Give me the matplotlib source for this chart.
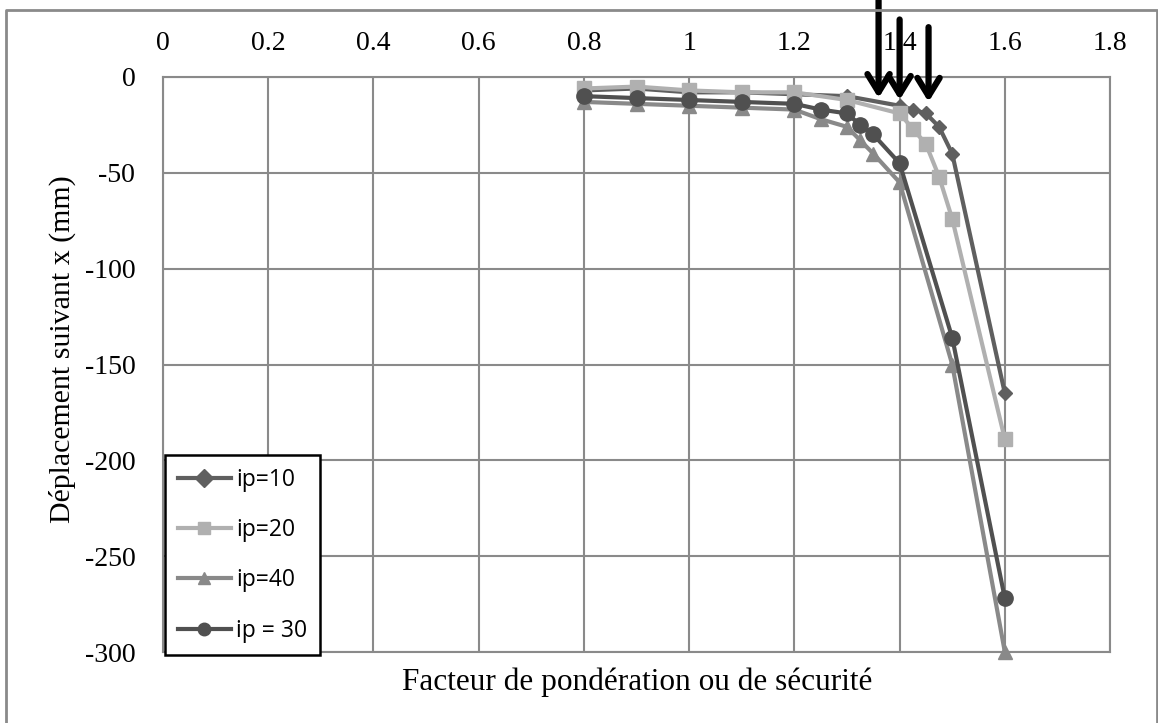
import numpy as np
import matplotlib.pyplot as plt
from matplotlib.lines import Line2D

plt.rcParams['axes.unicode_minus'] = False

# data
x10 = [0.8, 0.9, 1.0, 1.1, 1.2, 1.3, 1.4, 1.425, 1.45, 1.475, 1.5, 1.6]
y10 = [-7, -6, -8, -8, -9, -10, -15, -17, -19, -26, -40, -165]

x20 = [0.8, 0.9, 1.0, 1.1, 1.2, 1.3, 1.4, 1.425, 1.45, 1.475, 1.5, 1.6]
y20 = [-6, -5, -7, -8, -8, -12, -19, -27, -35, -52, -74, -189]

x40 = [0.8, 0.9, 1.0, 1.1, 1.2, 1.25, 1.3, 1.325, 1.35, 1.4, 1.5, 1.6]
y40 = [-13, -14, -15, -16, -17, -22, -26, -33, -40, -55, -150, -300]

x30 = [0.8, 0.9, 1.0, 1.1, 1.2, 1.25, 1.3, 1.325, 1.35, 1.4, 1.5, 1.6]
y30 = [-10, -11, -12, -13, -14, -17, -19, -25, -30, -45, -136, -272]

labels = ['ip=10', 'ip=20', 'ip=40', 'ip = 30']

arrow_x = [1.36, 1.40, 1.455]
arrow_top = [40, 30, 26]
arrow_tip = [-11, -12, -13]

serif = 'Liberation Serif'

fig = plt.figure(figsize=(11.58, 7.23), dpi=100)
ax = fig.add_axes([0.1408, 0.0982, 0.8178, 0.7953])

kw = dict(lw=3, zorder=3, clip_on=False)
ax.plot(x10, y10, color='#5f5f5f', marker='D', ms=7, label=labels[0], **kw)
ax.plot(x20, y20, color='#b0b0b0', marker='s', ms=10, label=labels[1], **kw)
ax.plot(x40, y40, color='#898989', marker='^', ms=10, label=labels[2], **kw)
ax.plot(x30, y30, color='#505050', marker='o', ms=11, label=labels[3], **kw)

ax.set_xlim(0, 1.8)
ax.set_ylim(-300, 0)
ax.set_xticks(np.arange(0, 1.81, 0.2))
ax.set_xticklabels(['0', '0.2', '0.4', '0.6', '0.8', '1', '1.2', '1.4', '1.6', '1.8'])
ax.set_yticks(np.arange(-300, 1, 50))
ax.xaxis.tick_top()
ax.tick_params(axis='both', length=0, labelsize=20)
ax.tick_params(axis='x', pad=15)
ax.tick_params(axis='y', pad=20)
for lab in ax.get_xticklabels() + ax.get_yticklabels():
    lab.set_fontfamily(serif)

ax.grid(True, color='#8a8a8a', lw=1.5)
ax.set_axisbelow(True)
for s in ax.spines.values():
    s.set_color('#8a8a8a')
    s.set_linewidth(1.5)

fig.text(0.054, 0.517, 'Déplacement suivant x (mm)', fontsize=21.5, family=serif,
         rotation=90, ha='center', va='center')
fig.text(0.55, 0.057, 'Facteur de pondération ou de sécurité', fontsize=22.5,
         family=serif, ha='center', va='center')

# arrows on top
for xa, yt, yb in zip(arrow_x, arrow_top, arrow_tip):
    ax.annotate('', xy=(xa, yb), xytext=(xa, yt), xycoords='data', textcoords='data',
                annotation_clip=False,
                arrowprops=dict(arrowstyle='->,head_length=1.3,head_width=0.8',
                                color='black', lw=4.5, shrinkA=0, shrinkB=0),
                zorder=5)

leg = ax.legend(loc='lower left', bbox_to_anchor=(0.002, -0.006), frameon=True,
                fancybox=False, edgecolor='black', framealpha=1,
                prop={'family': 'Open Sans', 'size': 16.5}, handlelength=2.35,
                handletextpad=0.2, labelspacing=1.15, borderpad=0.55,
                borderaxespad=0)
leg.get_frame().set_linewidth(1.8)
for h in leg.legend_handles:
    h.set_markersize(9)

# outer chart border (left, top, right)
bx = [6 / 1158, 6 / 1158, 1157 / 1158, 1157 / 1158]
by = [0.0, 1 - 10 / 723, 1 - 10 / 723, 0.0]
fig.add_artist(Line2D(bx, by, transform=fig.transFigure, color='#8a8a8a', lw=2))

fig.savefig('out.png', dpi=100)
